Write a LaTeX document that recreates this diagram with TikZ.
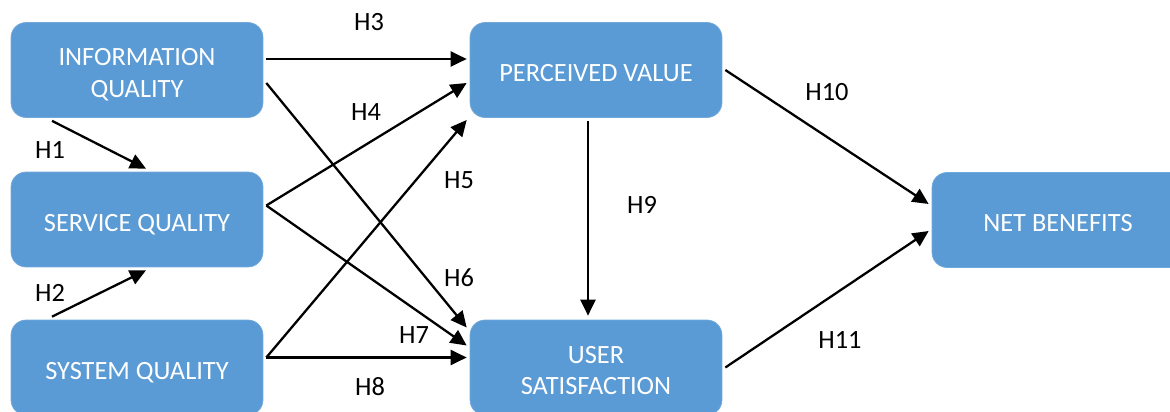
\documentclass[tikz,border=0pt]{standalone}
\usepackage{fontspec}
\setmainfont{Carlito}
\usetikzlibrary{arrows.meta}
\definecolor{boxblue}{HTML}{5B9BD5}
\tikzset{
  factor/.style={fill=boxblue, draw=boxblue!85!white, rounded corners=0.3cm,
    minimum width=5.04cm, minimum height=1.9cm, text=white, align=center,
    font=\fontsize{15}{18}\selectfont, text height=13.1pt, text depth=0pt},
  twoline/.style={text height=31.1pt, text depth=0pt},
  hyp/.style={-{Triangle[length=0.32cm,width=0.3cm]}, line width=1.3pt},
  hlabel/.style={font=\fontsize{15}{18}\selectfont}
}
\begin{document}
\begin{tikzpicture}[x=0.02cm,y=-0.02cm]
  \useasboundingbox (0,0) rectangle (1170,412);
  % constructs
  \node[factor,twoline] (info) at (137,70) {INFORMATION\\QUALITY};
  \node[factor] (serv) at (137,219.5) {SERVICE QUALITY};
  \node[factor] (syst) at (137,367.5) {SYSTEM QUALITY};
  \node[factor] (pv) at (596,70) {PERCEIVED VALUE};
  \node[factor,twoline] (us) at (596,367.5) {USER\\SATISFACTION};
  \node[factor] (net) at (1058,220) {NET BENEFITS};
  % hypotheses
  \draw[hyp] ([shift={(-85,3)}]info.south) -- ([shift={(9,-3)}]serv.north);
  \draw[hyp] ([shift={(-85,-3)}]syst.north) -- ([shift={(9,3)}]serv.south);
  \draw[hyp] ([shift={(3,-11)}]info.east) -- ([shift={(-3,-11)}]pv.west);
  \draw[hyp] ([shift={(3,-14)}]serv.east) -- ([shift={(-3,13)}]pv.west);
  \draw[hyp] ([shift={(3,-10)}]syst.east) -- ([shift={(-3,50)}]pv.west);
  \draw[hyp] ([shift={(3,13)}]info.east) -- ([shift={(-3,-40)}]us.west);
  \draw[hyp] ([shift={(3,-14)}]serv.east) -- ([shift={(-3,-22)}]us.west);
  \draw[hyp] ([shift={(3,-10)}]syst.east) -- ([shift={(-3,-10)}]us.west);
  \draw[hyp] ([shift={(-8,3)}]pv.south) -- ([shift={(-8,-4)}]us.north);
  \draw[hyp] ([shift={(3,0)}]pv.east) -- ([shift={(-3,-16)}]net.west);
  \draw[hyp] ([shift={(3,0)}]us.east) -- ([shift={(-3,11)}]net.west);
  % labels
  \node[hlabel] (h1) at (50,150) {H1};
  \node[hlabel] (h2) at (50,293) {H2};
  \node[hlabel] (h3) at (369,22) {H3};
  \node[hlabel] (h4) at (366,112) {H4};
  \node[hlabel] (h5) at (459,180) {H5};
  \node[hlabel] (h6) at (459,278) {H6};
  \node[hlabel] (h7) at (414,335) {H7};
  \node[hlabel] (h8) at (370,387) {H8};
  \node[hlabel] (h9) at (642,205) {H9};
  \node[hlabel] (h10) at (827,92) {H10};
  \node[hlabel] (h11) at (840,340) {H11};
\end{tikzpicture}
\end{document}
